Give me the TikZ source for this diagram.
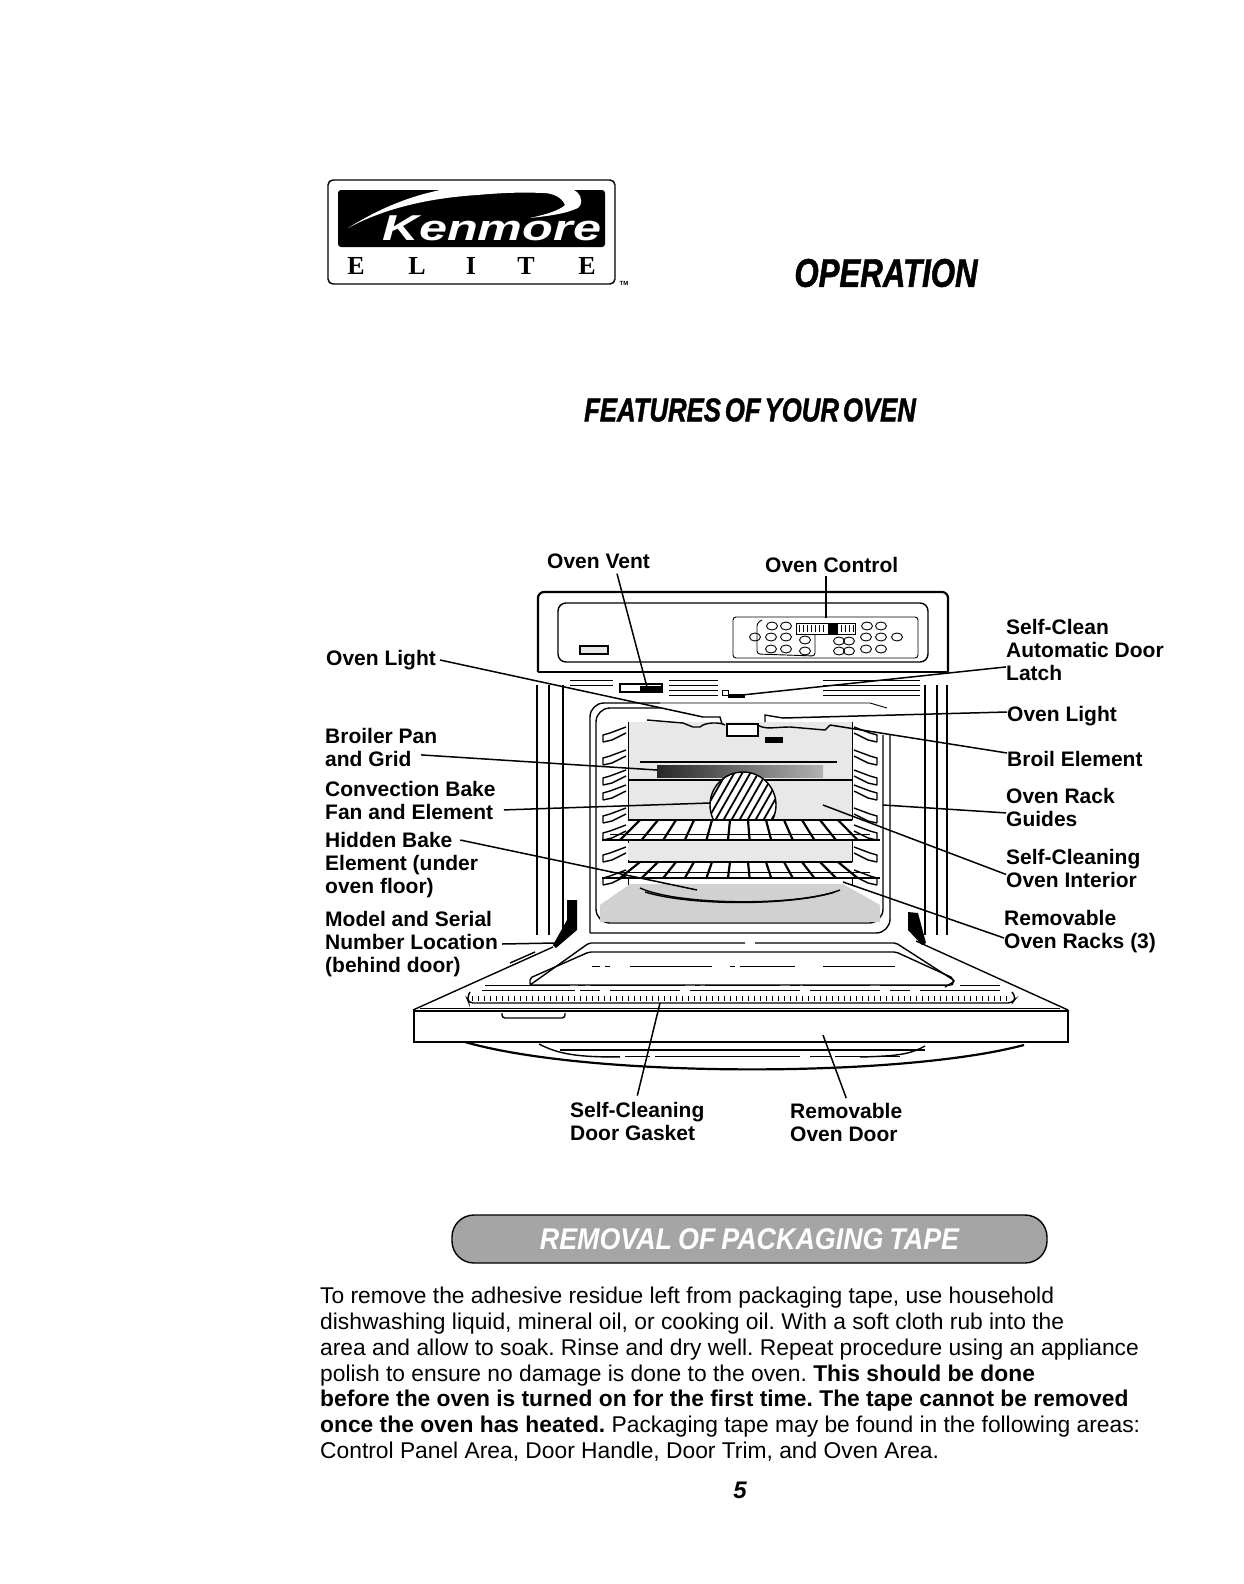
\documentclass[tikz,border=0pt]{standalone}
\usepackage{fontspec}
\setmainfont{Liberation Sans}
\newfontfamily\headfont[FakeStretch=0.78,FakeBold=1.2]{Liberation Sans}
\newfontfamily\bannerfont[FakeStretch=0.895]{Liberation Sans}
\newfontfamily\logofont[FakeStretch=1.4]{Liberation Sans}
\newfontfamily\eliteFont{Liberation Serif}
\usetikzlibrary{calc,shapes.geometric}
\definecolor{stipple}{RGB}{232,232,232}
\definecolor{pillgray}{RGB}{165,165,165}
\begin{document}
\begin{tikzpicture}[
    x=1pt, y=-1pt,
    lbl/.style={inner sep=0pt, anchor=west, align=left, font=\fontsize{21}{23}\selectfont\bfseries},
    lead/.style={line width=1.5pt},
    ovenline/.style={line width=1.4pt},
    fineline/.style={line width=0.9pt},
    heavy/.style={line width=2.2pt},
    btn/.style={draw, ellipse, line width=0.9pt, inner sep=0pt, minimum width=11pt, minimum height=8pt},
]
\useasboundingbox (0,0) rectangle (1244,1584);

% logo
\draw[ovenline, rounded corners=5pt] (328,180) rectangle (615,284);
\fill[black, rounded corners=3pt] (338,190) rectangle (605,247);
\fill[white] (348,228) .. controls (385,205) and (415,195) .. (445,189) -- (572,189)
  -- (577,192) .. controls (583,198) and (582,205) .. (578,208) .. controls (565,214) and (548,216) .. (530,218)
  .. controls (548,214) and (560,210) .. (565,205) .. controls (562,197) and (552,193) .. (543,193)
  .. controls (520,192) and (500,193) .. (477,195) .. controls (430,198) and (385,208) .. (348,228) -- cycle;
\node[inner sep=0pt, text=white, font=\logofont\fontsize{36}{36}\selectfont\bfseries\itshape] (kenmore) at (492,228) {Kenmore};
\foreach \ltr/\xx [count=\i] in {E/356, L/417, I/471, T/526, E/587}
  \node[inner sep=0pt, font=\eliteFont\fontsize{26}{26}\selectfont\bfseries] (elite\i) at (\xx,266) {\ltr};
\node[inner sep=0pt, font=\fontsize{6}{6}\selectfont\bfseries] (tm) at (624,283) {TM};

% headings
\node[inner sep=0pt, font=\headfont\fontsize{40}{40}\selectfont\bfseries\itshape] (operation) at (886,273) {OPERATION};
\node[inner sep=0pt, font=\headfont\fontsize{33}{33}\selectfont\bfseries\itshape] (features) at (750,410) {\spaceskip=0.12em FEATURES OF YOUR OVEN};

% control panel
\draw[heavy, rounded corners=6pt] (538,672) -- (538,592) -- (948,592) -- (948,672);
\draw[heavy] (538,672) -- (948,672);
\draw[ovenline, rounded corners=8pt] (558,603) rectangle (928,662);
\draw[fineline, rounded corners=3pt] (733,617) rectangle (918,658);
\draw[ovenline, fill=stipple] (580,646) rectangle (608,654);
\draw[fineline, rounded corners=3pt] (762,620) -- (757,623) -- (757,654) -- (815,656) -- (815,634);
\draw[fineline] (796,623) rectangle (855,634);
\fill[black] (828,623) rectangle (838,634);
\foreach \xx in {799,803,...,825,841,845,...,853}
  \draw[fineline] (\xx,625) -- (\xx,632);
\foreach \xx/\yy [count=\i] in {755/637, 772/626, 786/626, 771/637, 786/637, 771/649, 786/649, 805/640, 805/651, 867/626, 881/626, 866/637, 881/637, 897/637, 839/641, 849/641, 839/651, 849/651, 866/649, 881/649}
  \node[btn] (btn\i) at (\xx,\yy) {};

% vents and door latch
\foreach \yy in {680,685,...,695} {
  \draw[fineline] (669,\yy) -- (718,\yy);
  \draw[fineline] (823,\yy) -- (920,\yy);
}
\foreach \yy in {680,685} \draw[fineline] (570,\yy) -- (613,\yy);
\draw[ovenline] (620,684) rectangle (662,692);
\fill[black] (640,686) rectangle (662,692);
\draw[fineline] (722,690) rectangle (728,695);
\fill[black] (728,694) rectangle (745,698);
\draw[fineline] (660,703) -- (870,703) -- (887,708);

% side posts
\foreach \xx in {537,549,563,925,937,947}
  \draw[heavy] (\xx,685) -- (\xx,935);

% oven cavity
\draw[ovenline, rounded corners=14pt] (590,933) -- (590,703) -- (660,703);
\draw[ovenline, rounded corners=14pt] (660,708) -- (596,708) -- (596,923) -- (883,923) -- (883,735);
\draw[ovenline, rounded corners=14pt] (890,735) -- (890,933) -- (590,933);

% back wall
\fill[stipple] (628,722) rectangle (852,862);
\draw[fineline] (628,722) -- (628,885);
\draw[fineline] (852,722) -- (852,885);
\draw[ovenline] (647,720) -- (683,723) -- (693,727) -- (700,727) .. controls (705,722) and (720,722) .. (725,725);
\draw[ovenline] (758,725) .. controls (765,730) and (775,727) .. (790,727) -- (825,730) -- (830,725);
\draw[ovenline] (703,717) -- (720,717) -- (722,724);
\draw[ovenline] (765,722) -- (765,715) -- (783,718);
\draw[ovenline, fill=white] (727,724) rectangle (758,736);
\fill[black] (765,737) rectangle (783,743);

% broil element and fan
\draw[heavy] (640,762) -- (837,762);
\shade[left color=black!85, right color=black!30] (657,765) rectangle (823,777);
\draw[ovenline] (628,780) -- (852,780);
\begin{scope}
  \clip (743,805) circle (33);
  \fill[white] (700,770) rectangle (790,840);
  \foreach \xx in {680,688,...,816}
    \draw[line width=1.8pt] (\xx,840) -- (\xx+40,770);
\end{scope}
\draw[ovenline] (743,805) circle (33);

% racks
\foreach \yb/\yf in {820/840, 862/878} {
  \fill[white] (628,\yb) -- (852,\yb) -- (880,\yf) -- (602,\yf) -- cycle;
  \foreach \bb in {640,658,...,840}
    \draw[heavy] (\bb,\yb) -- ({740+(\bb-740)*1.2},\yf);
  \draw[ovenline] (628,\yb) -- (852,\yb);
  \draw[heavy] (602,\yf) -- (880,\yf);
  \draw[fineline] (610,\yf-6) -- (870,\yf-6);
}
\fill[stipple] (628,843) rectangle (852,860);

% rack guides
\foreach \yy in {737,760,780,795,818,835,857,880} {
  \begin{scope}[shift={(0,\yy)}]
    \draw[ovenline] (603,5) -- (603,-2) -- (610,-4) -- (626,-10);
    \draw[ovenline] (603,5) -- (612,3) -- (626,-4);
  \end{scope}
  \begin{scope}[shift={(1480,\yy)}, xscale=-1]
    \draw[ovenline] (603,5) -- (603,-2) -- (610,-4) -- (626,-10);
    \draw[ovenline] (603,5) -- (612,3) -- (626,-4);
  \end{scope}
}

% floor and hidden bake element
\fill[black!18] (630,884) -- (843,884) -- (880,905) -- (880,922) -- (600,922) -- (600,905) -- cycle;
\draw[ovenline] (640,888) .. controls (680,906) and (800,906) .. (840,890);
\draw[ovenline] (645,892) .. controls (690,906) and (790,906) .. (835,892);

% hinges
\fill[black] (567,900) -- (577,900) -- (577,930) -- (556,948) -- (553,945) -- (567,920) -- cycle;
\fill[black] (908,912) -- (918,913) -- (926,943) -- (922,945) -- (908,930) -- cycle;

% door
\draw[ovenline] (413,1010) -- (553,947);
\draw[ovenline] (1068,1010) -- (916,941);
\draw[ovenline] (510,963) -- (535,952);
\draw[ovenline, rounded corners=2pt] (530,985) -- (589,943) -- (745,943);
\draw[ovenline, rounded corners=2pt] (755,943) -- (896,943) -- (955,981) -- (945,987);
\draw[ovenline, rounded corners=2pt] (530,978) -- (589,952) -- (896,952) -- (953,978) -- (953,985) -- (530,985) -- cycle;
\foreach \xs/\xe in {592/600, 605/610, 630/712, 730/735, 740/795, 823/895}
  \draw[fineline] (\xs,966) -- (\xe,966);
\foreach \xs/\xe in {485/570, 578/585, 590/685, 695/700, 705/780, 790/800, 803/870, 880/950, 960/1000}
  \draw[fineline] (\xs,985) -- (\xe,985);
\foreach \xs/\xe in {482/575, 580/600, 610/680, 690/800, 810/880, 890/910, 920/1000}
  \draw[fineline] (\xs,990) -- (\xe,990);
\draw[ovenline, rounded corners=4pt] (470,992) -- (467,998) -- (469,1003) -- (1012,1003) -- (1016,998) -- (1012,992);
\foreach \xx in {472,478,...,1010}
  \draw[line width=0.8pt] (\xx,996) -- (\xx,1001);
\draw[heavy] (414,1011) rectangle (1068,1042);
\draw[fineline] (420,1008) -- (1060,1008);
\draw[ovenline, rounded corners=3pt] (502,1013) -- (502,1018) -- (565,1018) -- (565,1013);
\draw[heavy] (465,1042) .. controls (590,1078) and (900,1078) .. (1024,1045);
\draw[ovenline] (539,1044) .. controls (560,1055) and (580,1057) .. (620,1057);
\draw[ovenline] (925,1046) .. controls (910,1054) and (900,1056) .. (860,1057);
\draw[heavy] (560,1050) -- (925,1050);
\foreach \xs/\xe in {590/620, 625/650, 655/800, 810/830, 835/900}
  \draw[fineline] (\xs,1056) -- (\xe,1056);

% labels
\node[lbl] (ventlbl) at (547,561) {Oven Vent};
\node[lbl] (controllbl) at (765,565) {Oven Control};
\node[lbl] (lightleft) at (326,660) {Oven Light};
\node[lbl] (broiler) at (325,747.5) {Broiler Pan\\and Grid};
\node[lbl] (convection) at (325,800.5) {Convection Bake\\Fan and Element};
\node[lbl] (hidden) at (325,865) {Hidden Bake\\Element (under\\oven floor)};
\node[lbl] (model) at (325,944) {Model and Serial\\Number Location\\(behind door)};
\node[lbl] (latch) at (1006,650) {Self-Clean\\Automatic Door\\Latch};
\node[lbl] (lightright) at (1007,716) {Oven Light};
\node[lbl] (broil) at (1007,759) {Broil Element};
\node[lbl] (guides) at (1006,807.5) {Oven Rack\\Guides};
\node[lbl] (interior) at (1006,868) {Self-Cleaning\\Oven Interior};
\node[lbl] (racks) at (1004,931.5) {Removable\\Oven Racks (3)};
\node[lbl] (gasket) at (570,1121) {Self-Cleaning\\Door Gasket};
\node[lbl] (doorlbl) at (790,1122.5) {Removable\\Oven Door};

% leader ends
\coordinate (ventend) at (647,687);
\coordinate (controlend) at (826,618);
\coordinate (lightleftend) at (703,717);
\coordinate (latchend) at (742,695);
\coordinate (lightrightend) at (783,718);
\coordinate (broilend) at (830,725);
\coordinate (broilerend) at (657,770);
\coordinate (convectionend) at (710,803);
\coordinate (hiddenend) at (697,890);
\coordinate (modelend) at (555,943);
\coordinate (guidesend) at (883,805);
\coordinate (interiorend) at (823,805);
\coordinate (racksend) at (843,882);
\coordinate (gasketend) at (660,1003);
\coordinate (doorend) at (823,1035);

\draw[lead] ([xshift=70pt,yshift=-5pt]ventlbl.south west) -- (ventend);
\draw[lead] ([xshift=61pt,yshift=-3pt]controllbl.south west) -- (controlend);
\draw[lead] ([xshift=4pt]lightleft.east) -- (lightleftend);
\draw[lead] ([yshift=14pt]latch.south west) -- (latchend);
\draw[lead] ([yshift=4pt]lightright.west) -- (lightrightend);
\draw[lead] ([yshift=6pt]broil.west) -- (broilend);
\draw[lead] ([xshift=40pt,yshift=12pt]broiler.south) -- (broilerend);
\draw[lead] ([xshift=8pt,yshift=10pt]convection.south east) -- (convectionend);
\draw[lead] ([xshift=-18pt,yshift=-8pt]hidden.north east) -- (hiddenend);
\draw[lead] ([xshift=4pt]model.east) -- (modelend);
\draw[lead] ([yshift=14pt]guides.south west) -- (guidesend);
\draw[lead] ([yshift=13pt]interior.south west) -- (interiorend);
\draw[lead] ([yshift=15pt]racks.south west) -- (racksend);
\draw[lead] ([yshift=6pt]gasket.north) -- (gasketend);
\draw[lead] ([yshift=5pt]doorlbl.north) -- (doorend);

% packaging tape banner
\node[draw=black, line width=1.4pt, fill=pillgray, rounded corners=22pt, minimum width=595pt, minimum height=48pt, inner sep=0pt] (pill) at (749.5,1239) {};
\node[inner sep=0pt, text=white, font=\bannerfont\fontsize{30}{30}\selectfont\bfseries\itshape] (pilltext) at (pill.center) {\spaceskip=0.2em REMOVAL OF PACKAGING TAPE};

% body text
\node[inner sep=0pt, anchor=north west, align=left, font=\fontsize{22.8}{25.8}\selectfont\frenchspacing] (bodytext) at (320,1287) {To remove the adhesive residue left from packaging tape, use household\\
dishwashing liquid, mineral oil, or cooking oil. With a soft cloth rub into the\\
area and allow to soak. Rinse and dry well. Repeat procedure using an appliance\\
polish to ensure no damage is done to the oven. \textbf{This should be done}\\
\textbf{before the oven is turned on for the first time. The tape cannot be removed}\\
\textbf{once the oven has heated.} Packaging tape may be found in the following areas:\\
Control Panel Area, Door Handle, Door Trim, and Oven Area.};
\node[inner sep=0pt, font=\fontsize{24}{24}\selectfont\bfseries\itshape] (pageno) at (740,1490) {5};
\end{tikzpicture}
\end{document}
